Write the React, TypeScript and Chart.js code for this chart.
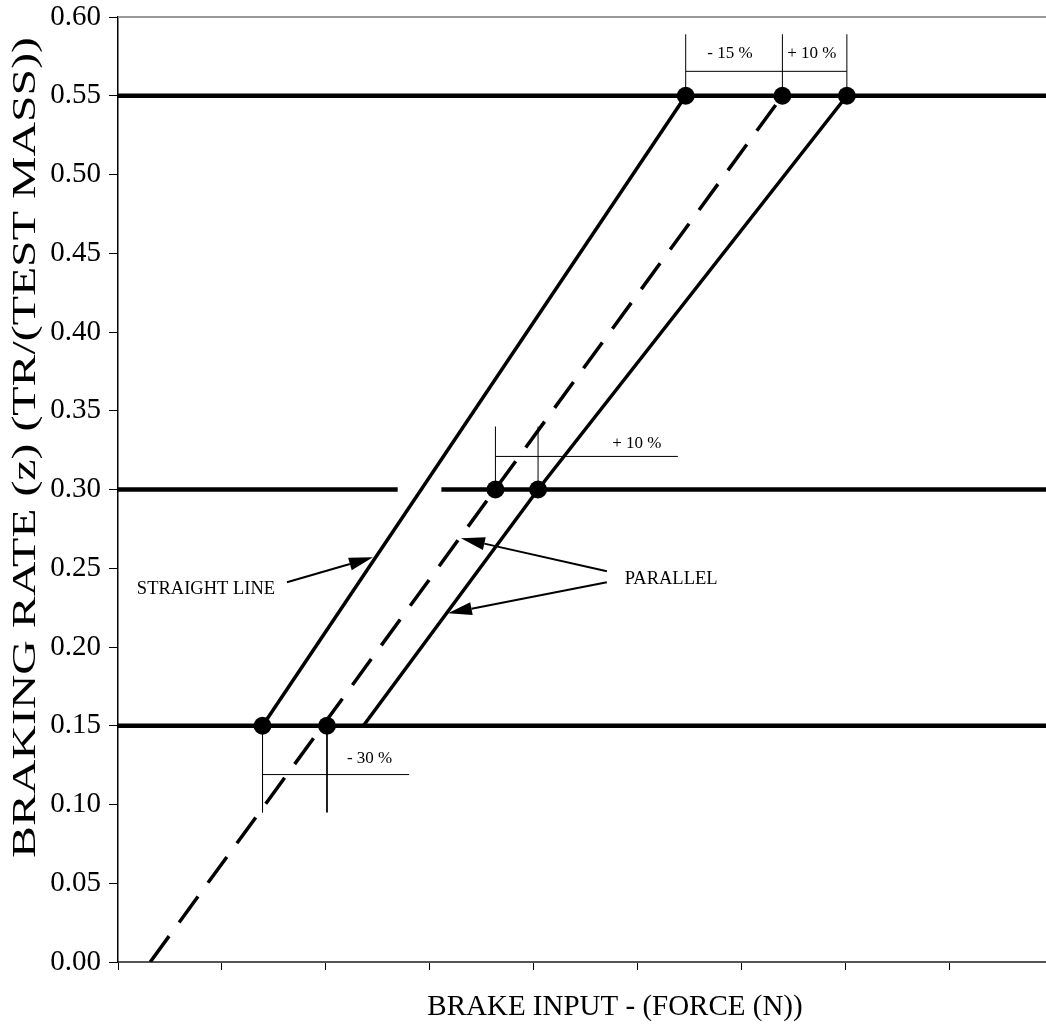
import { useEffect, useRef } from "react";
import { Chart, registerables } from "chart.js";

Chart.register(...registerables);

// ---- data (x in force units, y in braking rate) ----
const X_TICKS = [0, 1, 2, 3, 4, 5, 6, 7, 8, 9];
const X_MIN = 0;
const X_MAX = 9.56;
const Y_MIN = 0;
const Y_MAX = 0.6;
const Y_STEP = 0.05;

const LEVELS = [0.15, 0.3, 0.55];
const LEVEL_GAPS: Record<string, number[]> = { "0.3": [2.69, 3.11] };

const DASHED_LINE = [
  [0.31, 0.0],
  [6.39, 0.55],
];
const LEFT_LINE = [
  [1.39, 0.15],
  [5.46, 0.55],
];
const RIGHT_LINE = [
  [2.36, 0.15],
  [4.04, 0.3],
  [7.01, 0.55],
];
const MARKED_POINTS = [
  [1.39, 0.15],
  [2.01, 0.15],
  [3.63, 0.3],
  [4.04, 0.3],
  [5.46, 0.55],
  [6.39, 0.55],
  [7.01, 0.55],
];

const DIM_SEGMENTS = [
  [[5.46, 0.55], [5.46, 0.589]],
  [[6.39, 0.55], [6.39, 0.589]],
  [[7.01, 0.55], [7.01, 0.589]],
  [[5.46, 0.5655], [7.01, 0.5655]],
  [[3.63, 0.3], [3.63, 0.34]],
  [[4.04, 0.3], [4.04, 0.34]],
  [[3.63, 0.321], [5.385, 0.321]],
  [[1.39, 0.15], [1.39, 0.095]],
  [[2.01, 0.15], [2.01, 0.095]],
  [[1.39, 0.119], [2.8, 0.119]],
];
const DIM_LABELS: [string, number, number][] = [
  ["- 15 %", 5.885, 0.577],
  ["+ 10 %", 6.673, 0.577],
  ["+ 10 %", 4.99, 0.3295],
  ["- 30 %", 2.42, 0.1295],
];

const CALLOUT_ARROWS = [
  [[1.625, 0.2411], [2.452, 0.257]],
  [[4.702, 0.2481], [3.298, 0.269]],
  [[4.702, 0.2411], [3.173, 0.2214]],
];
const CALLOUT_TEXTS: [string, number, number][] = [
  ["STRAIGHT LINE", 0.846, 0.2367],
  ["PARALLEL", 5.32, 0.243],
];

const X_TITLE = "BRAKE INPUT - (FORCE (N))";
const Y_TITLE = "BRAKING RATE (z) (TR/(TEST MASS))";

const SERIF = "'Liberation Serif', 'Times New Roman', serif";

const toPts = (arr: number[][]) => arr.map(([x, y]) => ({ x, y }));

function levelSegments() {
  const segs: number[][][] = [];
  LEVELS.forEach((l) => {
    const gap = LEVEL_GAPS[String(l)];
    if (gap) {
      segs.push([[X_MIN, l], [gap[0], l]]);
      segs.push([[gap[1], l], [X_MAX, l]]);
    } else {
      segs.push([[X_MIN, l], [X_MAX, l]]);
    }
  });
  return segs;
}

const annotationPlugin = {
  id: "annotations",
  afterDatasetsDraw(chart: any) {
    const { ctx, chartArea, scales } = chart;
    const xs = scales.x;
    const ys = scales.y;
    const px = (v: number) => xs.getPixelForValue(v);
    const py = (v: number) => ys.getPixelForValue(v);
    ctx.save();
    // top frame line
    ctx.strokeStyle = "#999";
    ctx.lineWidth = 2;
    ctx.beginPath();
    ctx.moveTo(chartArea.left, chartArea.top);
    ctx.lineTo(chartArea.right, chartArea.top);
    ctx.stroke();

    ctx.fillStyle = "#000";
    ctx.textAlign = "center";
    ctx.textBaseline = "middle";
    ctx.font = `17px ${SERIF}`;
    DIM_LABELS.forEach(([t, x, y]) => ctx.fillText(t, px(x), py(y)));

    ctx.font = `18.5px ${SERIF}`;
    CALLOUT_TEXTS.forEach(([t, x, y]) => ctx.fillText(t, px(x), py(y)));

    ctx.strokeStyle = "#000";
    ctx.lineWidth = 2;
    CALLOUT_ARROWS.forEach(([a, b]) => {
      const x1 = px(a[0]), y1 = py(a[1]), x2 = px(b[0]), y2 = py(b[1]);
      const ang = Math.atan2(y2 - y1, x2 - x1);
      const len = 24, hw = 6.5;
      const bx = x2 - len * Math.cos(ang), by = y2 - len * Math.sin(ang);
      ctx.beginPath();
      ctx.moveTo(x1, y1);
      ctx.lineTo(bx, by);
      ctx.stroke();
      ctx.beginPath();
      ctx.moveTo(x2, y2);
      ctx.lineTo(bx + hw * Math.sin(ang), by - hw * Math.cos(ang));
      ctx.lineTo(bx - hw * Math.sin(ang), by + hw * Math.cos(ang));
      ctx.closePath();
      ctx.fill();
    });

    // y-axis title (stretched along its length, as in the reference)
    ctx.font = `34px ${SERIF}`;
    const w = ctx.measureText(Y_TITLE).width;
    const top = 37, bottom = 858;
    ctx.translate(26, (top + bottom) / 2);
    ctx.rotate(-Math.PI / 2);
    ctx.scale((bottom - top) / w, 1);
    ctx.textAlign = "center";
    ctx.textBaseline = "middle";
    ctx.fillText(Y_TITLE, 0, 0);
    ctx.restore();
  },
};

export default function App() {
  const ref = useRef<HTMLCanvasElement | null>(null);
  useEffect(() => {
    if (!ref.current) return;
    const datasets: any[] = [];
    datasets.push({
      data: toPts(MARKED_POINTS),
      showLine: false,
      pointRadius: 9,
      pointBackgroundColor: "#000",
      pointBorderColor: "#000",
      pointBorderWidth: 0,
    });
    const line = (pts: number[][], width: number, dash: number[] = []) => ({
      data: toPts(pts),
      showLine: true,
      borderColor: "#000",
      borderWidth: width,
      borderDash: dash,
      pointRadius: 0,
      borderCapStyle: "butt",
      tension: 0,
    });
    datasets.push(line(LEFT_LINE, 3.5));
    datasets.push(line(RIGHT_LINE, 3.5));
    datasets.push(line(DASHED_LINE, 3.5, [32, 17]));
    levelSegments().forEach((s) => datasets.push(line(s, 4.5)));
    DIM_SEGMENTS.forEach((s) => datasets.push(line(s, 1)));

    const chart = new Chart(ref.current, {
      type: "scatter",
      data: { datasets },
      options: {
        animation: false,
        responsive: true,
        maintainAspectRatio: false,
        layout: { padding: { top: 17, right: 0, bottom: 0, left: 0 } },
        plugins: { legend: { display: false }, tooltip: { enabled: false } },
        scales: {
          x: {
            type: "linear",
            min: X_MIN,
            max: X_MAX,
            afterBuildTicks: (s: any) => {
              s.ticks = X_TICKS.map((v) => ({ value: v }));
            },
            afterFit: (s: any) => {
              s.height = 65;
              s.paddingLeft = 0;
              s.paddingRight = 0;
            },
            ticks: { callback: () => "", font: { size: 1 } },
            grid: {
              drawOnChartArea: false,
              drawTicks: true,
              tickLength: 8,
              color: "#000",
              lineWidth: 1,
            },
            border: { color: "#555", width: 2 },
            title: {
              display: true,
              text: X_TITLE,
              color: "#000",
              font: { family: SERIF, size: 29 },
              padding: { top: 0, bottom: 2 },
            },
          },
          y: {
            type: "linear",
            min: Y_MIN,
            max: Y_MAX,
            ticks: {
              stepSize: Y_STEP,
              color: "#000",
              padding: 8,
              font: { family: SERIF, size: 29, lineHeight: 1 },
              callback: (v: any) => Number(v).toFixed(2),
            },
            afterFit: (s: any) => {
              s.width = 118;
              s.paddingTop = 0;
              s.paddingBottom = 0;
            },
            grid: {
              drawOnChartArea: false,
              drawTicks: true,
              tickLength: 9,
              color: "#000",
              lineWidth: 1,
            },
            border: { color: "#000", width: 1.5 },
            title: { display: false },
          },
        },
      },
      plugins: [annotationPlugin],
    });
    return () => chart.destroy();
  }, []);
  return (
    <div style={{ position: "fixed", left: 0, top: 0, width: 1121, height: 1027, background: "#fff" }}>
      <canvas ref={ref} aria-label={`${Y_TITLE} vs ${X_TITLE}`} />
    </div>
  );
}
